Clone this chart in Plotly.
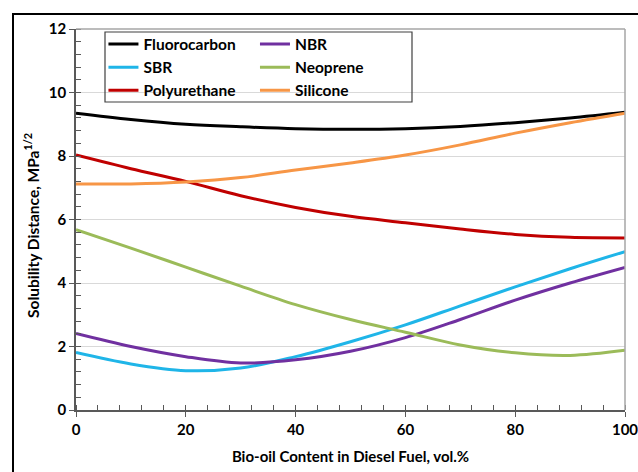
import plotly.graph_objects as go

# Bio-oil content (vol.%) and solubility distance for each elastomer
bio_oil = [0, 10, 20, 30, 40, 50, 60, 70, 80, 90, 100]
fluorocarbon = [9.35, 9.15, 9.0, 8.92, 8.86, 8.84, 8.86, 8.93, 9.05, 9.2, 9.38]
sbr = [1.81, 1.45, 1.24, 1.32, 1.68, 2.15, 2.68, 3.28, 3.88, 4.45, 4.99]
polyurethane = [8.03, 7.6, 7.2, 6.75, 6.38, 6.1, 5.9, 5.7, 5.53, 5.44, 5.42]
nbr = [2.41, 2.0, 1.68, 1.48, 1.58, 1.85, 2.28, 2.85, 3.46, 4.0, 4.49]
neoprene = [5.68, 5.1, 4.5, 3.9, 3.32, 2.85, 2.45, 2.05, 1.8, 1.72, 1.88]
silicone = [7.12, 7.12, 7.18, 7.32, 7.56, 7.78, 8.03, 8.35, 8.72, 9.05, 9.35]

x_ticks = [0, 20, 40, 60, 80, 100]
y_ticks = [0, 2, 4, 6, 8, 10, 12]

series = [
    ("Fluorocarbon", fluorocarbon, "#000000", "legend"),
    ("SBR", sbr, "#1FB5E8", "legend"),
    ("Polyurethane", polyurethane, "#C00000", "legend"),
    ("NBR", nbr, "#7030A0", "legend2"),
    ("Neoprene", neoprene, "#9BBB59", "legend2"),
    ("Silicone", silicone, "#F79646", "legend2"),
]

FONT = "Lato"

fig = go.Figure()
for name, vals, color, leg in series:
    fig.add_trace(go.Scatter(
        x=bio_oil, y=vals, name=name, mode="lines",
        line=dict(color=color, width=3, shape="spline", smoothing=1.0),
        legend=leg, legendgroup=name,
    ))

legend_style = dict(
    font=dict(family=FONT, size=15.5, color="#000000", weight="bold"),
    bgcolor="rgba(0,0,0,0)", borderwidth=0,
    yanchor="top", xanchor="left", tracegroupgap=0,
    orientation="v",
)

axis_font = dict(family=FONT, size=15, color="#000000", weight="bold")

fig.update_layout(
    width=638, height=472,
    margin=dict(l=76, r=13, t=29, b=62),
    paper_bgcolor="white", plot_bgcolor="white",
    showlegend=True,
    legend=dict(x=0.05, y=1.004, **legend_style),
    legend2=dict(x=0.326, y=1.004, **legend_style),
    xaxis=dict(
        range=[0, 100], tickvals=x_ticks, ticktext=[str(v) for v in x_ticks],
        showgrid=False, zeroline=False, automargin=False, ticklabeloverflow="allow",
        showline=True, linecolor="#595959", linewidth=1.5,
        ticks="outside", ticklen=5, tickcolor="#595959",
        minor=dict(dtick=4, ticks="inside", ticklen=5, tickcolor="#595959", showgrid=False),
        tickfont=axis_font,
        title=dict(text="Bio-oil Content in Diesel Fuel, vol.%", font=axis_font, standoff=15),
    ),
    yaxis=dict(
        range=[0, 12], tickvals=y_ticks, ticktext=[str(v) for v in y_ticks],
        showgrid=True, gridcolor="#D9D9D9", gridwidth=1, zeroline=False, automargin=False,
        showline=True, linecolor="#595959", linewidth=1.5,
        ticks="outside", ticklen=5, tickcolor="#595959",
        minor=dict(dtick=0.4, ticks="inside", ticklen=5, tickcolor="#595959", showgrid=False),
        tickfont=axis_font,
    ),
)

# y-axis title
fig.add_annotation(
    text="Solubility Distance, MPa<sup>1/2</sup>", textangle=-90,
    xref="paper", yref="paper", x=(31 - 76) / 549, y=(410 - 226) / 381,
    xanchor="center", yanchor="middle", showarrow=False,
    font=dict(family=FONT, size=15.5, color="#000000", weight="bold"),
)

# plot area frame (top and right edges)
fig.add_shape(type="line", xref="paper", yref="paper", x0=0, x1=1, y0=1, y1=1,
              line=dict(color="#A6A6A6", width=1.5))
fig.add_shape(type="line", xref="paper", yref="paper", x0=1, x1=1, y0=0, y1=1,
              line=dict(color="#A6A6A6", width=1.5))

# legend box
fig.add_shape(type="rect", xref="paper", yref="paper",
              x0=(105 - 76) / 549, x1=(412 - 76) / 549,
              y0=(410 - 102) / 381, y1=(410 - 32) / 381,
              line=dict(color="#404040", width=1.2), fillcolor="rgba(0,0,0,0)")

# outer chart frame
fig.add_shape(type="rect", xref="paper", yref="paper",
              x0=(13 - 76) / 549, x1=(642 - 76) / 549,
              y0=(410 - 476) / 381, y1=(410 - 14) / 381,
              line=dict(color="#000000", width=2), fillcolor="rgba(0,0,0,0)")

fig.write_html("out.html")
